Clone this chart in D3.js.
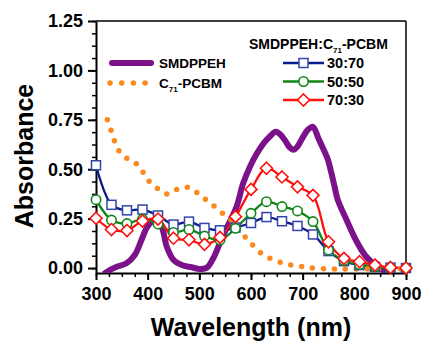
<!DOCTYPE html>
<html><head><meta charset="utf-8">
<script src="https://cdn.jsdelivr.net/npm/d3@7"></script>
<style>
body{margin:0;background:#fff;}
svg{display:block;font-family:"Liberation Sans",Arial,sans-serif;font-weight:bold;}
</style></head>
<body><svg id="c" width="424" height="341"></svg>
<script>
// ---- data ----
const wavelengths = [300,330,360,390,420,450,480,510,540,570,600,630,660,690,720,750,780,810,840,870,900];
const blend3070 = [0.520,0.320,0.292,0.296,0.266,0.220,0.235,0.203,0.191,0.205,0.228,0.258,0.237,0.213,0.170,0.086,0.035,0.015,0.006,0.002,0.000];
const blend5050 = [0.346,0.243,0.225,0.248,0.223,0.180,0.195,0.162,0.142,0.201,0.277,0.336,0.311,0.289,0.235,0.091,0.038,0.018,0.006,0.001,0.000];
const blend7030 = [0.252,0.195,0.190,0.238,0.248,0.151,0.143,0.120,0.155,0.260,0.398,0.505,0.461,0.411,0.368,0.133,0.049,0.032,0.015,0.003,0.000];

const smdNm  = [315,330,340,359,375,388,398,408,416,427,437,450,466,485,501,515,527,534,546,560,572,585,598,611,624,637,648,657,666,675,682,690,700,710,720,730,739,749,755,761,768,785,803,822,844,855,866];
const smdAbs = [-0.03,-0.006,0.007,0.024,0.066,0.142,0.203,0.235,0.241,0.209,0.108,0.041,0.015,0.004,-0.005,0.003,0.05,0.09,0.165,0.24,0.31,0.43,0.513,0.578,0.63,0.667,0.69,0.676,0.645,0.61,0.598,0.615,0.66,0.70,0.715,0.659,0.608,0.547,0.487,0.421,0.345,0.243,0.142,0.061,0.008,-0.01,-0.03];

const pcbmNm  = [322,330,337,348,367,385,396,416,438,459,481,503,524,545,566,584,602,624,645,667,689,710,750,800,900];
const pcbmAbs = [0.75,0.69,0.635,0.58,0.544,0.514,0.46,0.409,0.374,0.40,0.407,0.365,0.323,0.277,0.232,0.172,0.12,0.066,0.041,0.02,0.012,0.002,-0.004,-0.005,-0.005];

const xTicks = [300,400,500,600,700,800,900];
const yTicks = [0,0.25,0.5,0.75,1.0,1.25];
const yTickLabels = ["0.00","0.25","0.50","0.75","1.00","1.25"];
const blendNames = ["30:70","50:50","70:30"];

// ---- chart ----
const svg = d3.select("#c");
const L=96,R=406,T=21,B=273;
const x = d3.scaleLinear().domain([300,900]).range([L,R]);
const y = d3.scaleLinear().domain([-0.025,1.25]).range([B,T]);

svg.append("clipPath").attr("id","clip").append("rect").attr("x",L).attr("y",T).attr("width",R-L).attr("height",B-T);

// minor ticks
const xMinor = d3.range(300,901,25);
const yMinor = d3.range(0,1.2501,0.0625);
svg.append("g").attr("transform",`translate(0,${B})`)
  .call(d3.axisBottom(x).tickValues(xMinor).tickSize(4).tickFormat(""))
  .call(g=>g.select(".domain").remove()).selectAll("line").attr("stroke-width",1.5);
svg.append("g").attr("transform",`translate(${L},0)`)
  .call(d3.axisLeft(y).tickValues(yMinor).tickSize(4).tickFormat(""))
  .call(g=>g.select(".domain").remove()).selectAll("line").attr("stroke-width",1.5);

// major axes
const xa = svg.append("g").attr("transform",`translate(0,${B})`)
  .call(d3.axisBottom(x).tickValues(xTicks).tickSize(7).tickPadding(7).tickSizeOuter(0).tickFormat(d3.format("d")));
const ya = svg.append("g").attr("transform",`translate(${L},0)`)
  .call(d3.axisLeft(y).tickValues(yTicks).tickSize(8).tickPadding(5).tickSizeOuter(0).tickFormat((d,i)=>yTickLabels[i]));
[xa,ya].forEach(a=>{
  a.selectAll("text").attr("font-size",18).attr("font-weight","bold").attr("fill","#000").attr("font-family","Liberation Sans, Arial, sans-serif");
  a.selectAll("line").attr("stroke-width",2);
  a.select(".domain").attr("stroke-width",2);
});
// frame top/right
svg.append("line").attr("x1",L).attr("x2",R).attr("y1",T).attr("y2",T).attr("stroke","#000").attr("stroke-width",1.5);
svg.append("line").attr("x1",R).attr("x2",R).attr("y1",T).attr("y2",B).attr("stroke","#000").attr("stroke-width",1.5);

const plot = svg.append("g").attr("clip-path","url(#clip)");
const line = d3.line().x(d=>x(d[0])).y(d=>y(d[1])).curve(d3.curveCatmullRom);

// SMDPPEH
plot.append("path").datum(smdNm.map((n,i)=>[n,smdAbs[i]]))
  .attr("d",line).attr("fill","none").attr("stroke","#7b1289").attr("stroke-width",6).attr("stroke-linejoin","round");

const series = [
  {vals:blend3070,color:"#0a1c8c",mcol:"#3344aa",shape:"square"},
  {vals:blend5050,color:"#10861a",mcol:"#10861a",shape:"circle"},
  {vals:blend7030,color:"#ff1010",mcol:"#ff1010",shape:"diamond"}
];
function marker(g,shape,cx,cy,col){
  if(shape==="square") g.append("rect").attr("x",cx-4.5).attr("y",cy-4.5).attr("width",9).attr("height",9).attr("fill","#fff").attr("stroke",col).attr("stroke-width",1.5);
  else if(shape==="circle") g.append("circle").attr("cx",cx).attr("cy",cy).attr("r",4.7).attr("fill","#fff").attr("stroke",col).attr("stroke-width",1.6);
  else g.append("path").attr("d",`M${cx},${cy-6}L${cx+6},${cy}L${cx},${cy+6}L${cx-6},${cy}Z`).attr("fill","#fff").attr("stroke",col).attr("stroke-width",1.6);
}
series.forEach(s=>{
  const pts = wavelengths.map((w,i)=>[w,s.vals[i]]);
  plot.append("path").datum(pts).attr("d",line).attr("fill","none").attr("stroke",s.color).attr("stroke-width",2.3);
  const mg = svg.append("g");
  pts.forEach(p=>marker(mg,s.shape,x(p[0]),y(p[1]),s.mcol));
});

// C71-PCBM dotted
plot.append("path").datum(pcbmNm.map((n,i)=>[n,pcbmAbs[i]]))
  .attr("d",line).attr("fill","none").attr("stroke","#fb8a1e").attr("stroke-width",5.5)
  .attr("stroke-linecap","round").attr("stroke-dasharray","0 11");

// ---- legends ----
const lg = svg.append("g");
lg.append("line").attr("x1",112).attr("x2",151).attr("y1",63).attr("y2",63).attr("stroke","#7b1289").attr("stroke-width",6).attr("stroke-linecap","round");
lg.append("text").attr("x",159).attr("y",67.5).attr("font-size",13.5).text("SMDPPEH");
lg.append("line").attr("x1",110).attr("x2",146).attr("y1",83).attr("y2",83).attr("stroke","#fb8a1e").attr("stroke-width",5.5).attr("stroke-linecap","round").attr("stroke-dasharray","0 11.7");
const t2 = lg.append("text").attr("x",159).attr("y",87.5).attr("font-size",13.5);
t2.append("tspan").text("C");
t2.append("tspan").attr("font-size",8).attr("dy",4).text("71");
t2.append("tspan").attr("dy",-4).text("-PCBM");

const tt = lg.append("text").attr("x",249).attr("y",48.5).attr("font-size",14);
tt.append("tspan").text("SMDPPEH:C");
tt.append("tspan").attr("font-size",8).attr("dy",4).text("71");
tt.append("tspan").attr("dy",-4).text("-PCBM");
const ly=[63,81.5,100];
series.forEach((s,i)=>{
  lg.append("line").attr("x1",283).attr("x2",324).attr("y1",ly[i]).attr("y2",ly[i]).attr("stroke",s.color).attr("stroke-width",2.3);
  marker(lg,s.shape,303.5,ly[i],s.mcol);
  lg.append("text").attr("x",327).attr("y",ly[i]+5).attr("font-size",14.5).text(blendNames[i]);
});

// axis titles
svg.append("text").attr("x",251).attr("y",336).attr("text-anchor","middle").attr("font-size",25).text("Wavelength (nm)");
svg.append("text").attr("transform","translate(33,156) rotate(-90)").attr("text-anchor","middle").attr("font-size",25).text("Absorbance");
</script></body></html>
